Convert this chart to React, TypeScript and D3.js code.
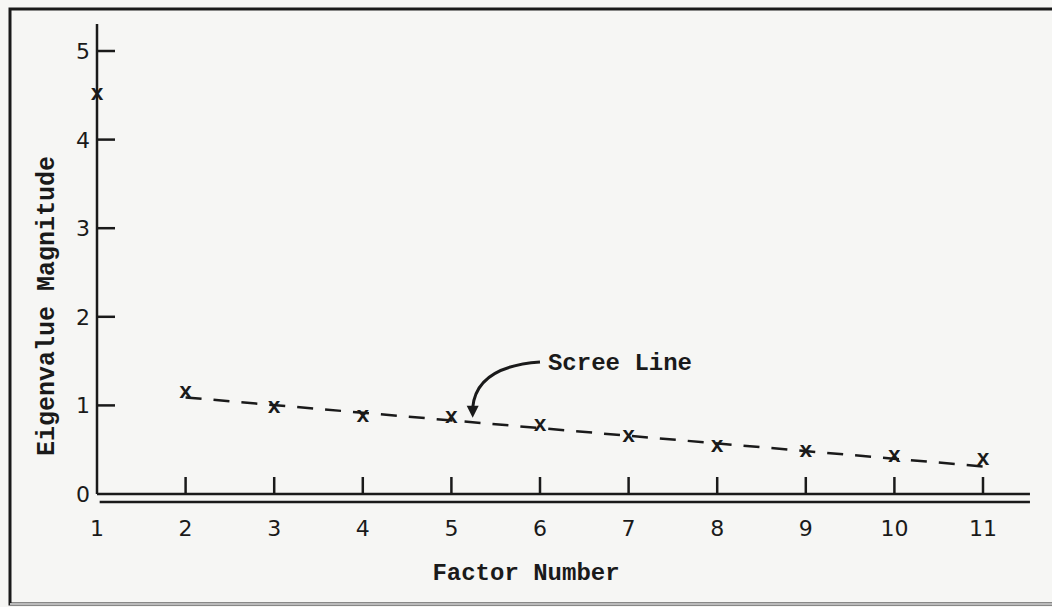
import React from "react";
import * as d3 from "d3";

// eigenvalues
const factors = [1, 2, 3, 4, 5, 6, 7, 8, 9, 10, 11];
const eigenvalues = [4.5, 1.14, 0.97, 0.87, 0.86, 0.77, 0.64, 0.53, 0.47, 0.42, 0.38];
const yTicks = [0, 1, 2, 3, 4, 5];
// fitted scree line, [factor, value]
const screeLine: [number, number][] = [[2, 1.09], [11.13, 0.3]];
// annotation: label anchor, curve control, arrow tip
const screeLabel = { text: "Scree Line", at: [6.09, 1.49], start: [6.0, 1.49], ctrl: [5.28, 1.44], tip: [5.24, 0.86] };

const W = 1052;
const H = 607;
const ink = "#1a1a1a";
const typeFont = "'Liberation Mono', 'DejaVu Sans Mono', monospace";
const digitFont = "'DejaVu Sans', sans-serif";

export default function App() {
  const x = d3.scaleLinear().domain([1, 11]).range([97, 983]);
  const y = d3.scaleLinear().domain([0, 5]).range([494, 51]);

  const line = d3.line<[number, number]>().x(d => x(d[0])).y(d => y(d[1]));

  const arrow = d3.path();
  const [sx, sy] = [x(screeLabel.start[0]), y(screeLabel.start[1])];
  const [cx, cy] = [x(screeLabel.ctrl[0]), y(screeLabel.ctrl[1])];
  const [tx, ty] = [x(screeLabel.tip[0]), y(screeLabel.tip[1])];
  arrow.moveTo(sx, sy);
  arrow.quadraticCurveTo(cx, cy, tx, ty - 10);

  return (
    <svg width={W} height={H} style={{ position: "absolute", left: 0, top: 0, background: "#f6f6f4" }}>
      {/* page frame */}
      <rect x={10} y={9} width={W + 20} height={595} fill="none" stroke={ink} strokeWidth={3} />
      <line x1={10} x2={W} y1={604} y2={604} stroke="#bbb" strokeWidth={2} />

      {/* y axis */}
      <line x1={x(1)} x2={x(1)} y1={24} y2={y(0)} stroke={ink} strokeWidth={2.5} />
      {yTicks.map(t => (
        <g key={t}>
          {t > 0 && <line x1={x(1)} x2={x(1) + 18} y1={y(t)} y2={y(t)} stroke={ink} strokeWidth={2.5} />}
          <text x={x(1) - 14} y={y(t)} dy="0.36em" textAnchor="middle" fontFamily={digitFont} fontSize={22} fill={ink}>
            {t}
          </text>
        </g>
      ))}

      {/* x axis, double rule */}
      <line x1={x(1)} x2={x(11.53)} y1={y(0)} y2={y(0)} stroke={ink} strokeWidth={2.5} />
      <line x1={x(1.03)} x2={x(11.53)} y1={y(0) + 8} y2={y(0) + 8} stroke={ink} strokeWidth={2.5} />
      {factors.map(f => (
        <g key={f}>
          {f > 1 && <line x1={x(f)} x2={x(f)} y1={y(0)} y2={y(0) - 17} stroke={ink} strokeWidth={2.5} />}
          <text x={x(f)} y={528} dy="0.36em" textAnchor="middle" fontFamily={digitFont} fontSize={22} fill={ink}>
            {f}
          </text>
        </g>
      ))}

      {/* axis titles */}
      <text x={526} y={572} dy="0.35em" textAnchor="middle" fontFamily={typeFont} fontWeight="bold" fontSize={24} fill={ink}>
        Factor Number
      </text>
      <text transform={`translate(45,306) rotate(-90)`} dy="0.35em" textAnchor="middle" fontFamily={typeFont} fontWeight="bold" fontSize={25} fill={ink}>
        Eigenvalue Magnitude
      </text>

      {/* scree line */}
      <path d={line(screeLine) || ""} fill="none" stroke={ink} strokeWidth={2.5} strokeDasharray="16 12" />

      {/* eigenvalue markers */}
      {factors.map((f, i) => (
        <text key={f} x={x(f)} y={y(eigenvalues[i])} dy="0.22em" textAnchor="middle" fontFamily={typeFont} fontWeight="bold" fontSize={22} fill={ink}>
          x
        </text>
      ))}

      {/* annotation */}
      <path d={arrow.toString()} fill="none" stroke={ink} strokeWidth={3} />
      <path d={`M${tx - 6},${ty - 12} L${tx + 6},${ty - 12} L${tx},${ty} Z`} fill={ink} />
      <text x={x(screeLabel.at[0])} y={y(screeLabel.at[1])} dy="0.35em" fontFamily={typeFont} fontWeight="bold" fontSize={24} fill={ink}>
        {screeLabel.text}
      </text>
    </svg>
  );
}
